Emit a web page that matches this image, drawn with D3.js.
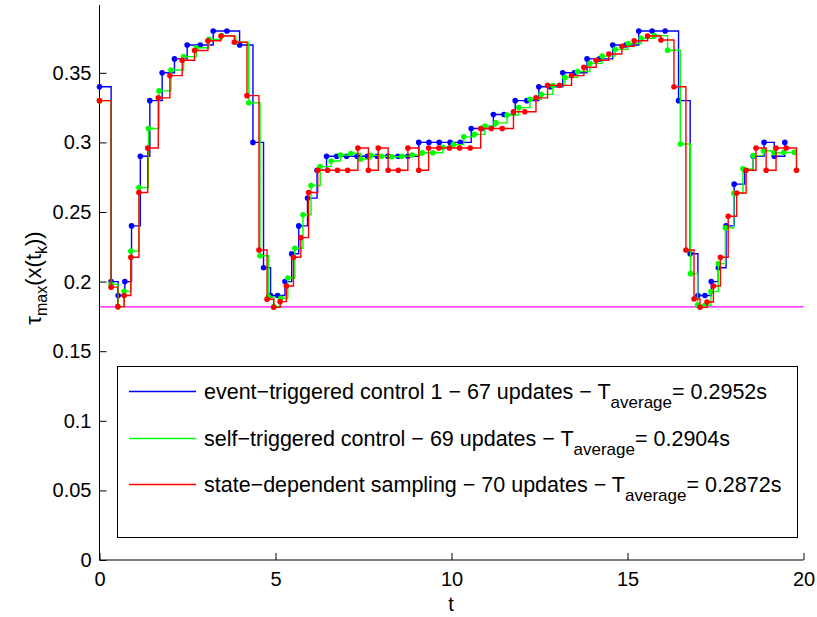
<!DOCTYPE html>
<html><head><meta charset="utf-8">
<script src="https://cdn.jsdelivr.net/npm/d3@7"></script>
<style>
body{margin:0;background:#fff;}
svg{font-family:"Liberation Sans",Arial,Helvetica,sans-serif;}
</style></head>
<body>
<svg id="c" width="817" height="617"></svg>
<script>
// Event-triggered control 1 (blue): update times and tau_max values
const blueT = [0,0.33,0.53,0.72,0.91,1.16,1.43,1.78,2.13,2.49,2.86,3.23,3.62,3.98,4.36,4.66,4.86,5.06,5.27,5.46,5.66,5.91,6.18,6.45,
  6.74,7.02,7.32,7.61,7.89,8.19,8.48,8.76,9.07,9.36,9.65,9.96,10.25,10.56,10.86,11.19,11.49,11.81,12.14,12.48,12.81,13.16,
  13.49,13.85,14.21,14.58,14.95,15.32,15.70,16.07,16.45,16.78,17.00,17.20,17.38,17.58,17.80,18.03,18.33,18.57,18.88,19.17,19.47];
const blueV = [0.34,0.20,0.19,0.20,0.24,0.29,0.33,0.35,0.36,0.37,0.37,0.38,0.38,0.37,0.30,0.21,0.19,0.19,0.20,0.22,0.24,0.26,0.28,0.29,
  0.29,0.29,0.29,0.29,0.29,0.29,0.29,0.29,0.30,0.30,0.30,0.30,0.30,0.31,0.31,0.32,0.32,0.33,0.33,0.34,0.34,0.35,
  0.35,0.36,0.36,0.37,0.37,0.38,0.38,0.38,0.33,0.22,0.19,0.19,0.20,0.21,0.24,0.27,0.28,0.29,0.30,0.29,0.30];
// Self-triggered control (green)
const greenT = [0,0.33,0.53,0.70,0.89,1.12,1.39,1.69,2.03,2.39,2.75,3.11,3.47,3.87,4.24,4.56,4.80,4.95,5.15,5.35,5.55,5.78,6.01,6.27,6.58,
  6.85,7.14,7.42,7.71,8.01,8.30,8.59,8.88,9.17,9.47,9.75,10.05,10.35,10.65,10.95,11.26,11.58,11.91,12.23,12.55,12.88,13.22,
  13.58,13.93,14.28,14.65,15.02,15.39,15.76,16.14,16.50,16.79,16.99,17.20,17.37,17.58,17.78,18.02,18.28,18.57,18.86,19.16,19.44,19.74];
const greenV = [0.33,0.198,0.182,0.193,0.222,0.2675,0.310,0.337,0.352,0.3616,0.368,0.374,0.3767,0.372,0.3285,0.2186,0.189,0.182,0.188,0.2026,0.224,0.248,0.269,0.2826,0.2866,
  0.291,0.292,0.288,0.2907,0.290,0.2897,0.290,0.291,0.2926,0.2926,0.2965,0.2984,0.304,0.3058,0.3118,0.314,0.3197,0.325,0.331,0.3345,0.3408,0.3467,
  0.3509,0.3568,0.362,0.3668,0.3711,0.3747,0.3767,0.3662,0.2989,0.2057,0.1832,0.183,0.1928,0.2129,0.2387,0.2634,0.281,0.2905,0.294,0.2926,0.2928,0.2928];
// State-dependent sampling (red)
const redT = [0,0.33,0.52,0.70,0.89,1.12,1.37,1.67,2.00,2.35,2.70,3.08,3.45,3.83,4.19,4.53,4.76,4.95,5.13,5.31,5.51,5.72,5.94,6.20,6.48,
  6.76,7.05,7.34,7.64,7.92,8.20,8.49,8.76,9.07,9.35,9.64,9.94,10.23,10.53,10.83,11.13,11.44,11.76,12.08,12.40,12.73,13.07,
  13.41,13.76,14.11,14.47,14.84,15.19,15.57,15.95,16.32,16.66,16.89,17.06,17.26,17.44,17.64,17.86,18.10,18.37,18.65,18.94,19.22,19.51,19.80];
const redV = [0.33,0.196,0.182,0.190,0.2175,0.264,0.296,0.332,0.348,0.359,0.366,0.373,0.3764,0.372,0.3336,0.2227,0.1873,0.1815,0.1856,0.1968,0.2175,0.2316,0.264,0.280,0.280,
  0.280,0.280,0.296,0.280,0.296,0.280,0.280,0.296,0.280,0.296,0.296,0.296,0.296,0.296,0.310,0.310,0.310,0.322,0.322,0.332,0.341,0.341,
  0.348,0.354,0.359,0.3635,0.369,0.373,0.3764,0.3736,0.340,0.2227,0.1875,0.1815,0.1853,0.1968,0.2175,0.247,0.2636,0.280,0.296,0.280,0.296,0.296,0.280];
const lowerBound = 0.1818;
const xTicks = [0,5,10,15,20];
const yTicks = [0,0.05,0.1,0.15,0.2,0.25,0.3,0.35];
const legendLabels = [
  ["event\u2212triggered control 1 \u2212 67 updates \u2212 T","average","= 0.2952s"],
  ["self\u2212triggered control \u2212 69 updates \u2212 T","average","= 0.2904s"],
  ["state\u2212dependent sampling \u2212 70 updates \u2212 T","average","= 0.2872s"]
];
const colors = ["#0000ff","#00ff00","#ff0000"];

const svg = d3.select("#c");
const x = d3.scaleLinear().domain([0,20]).range([99.5,803.5]);
const y = d3.scaleLinear().domain([0,0.4]).range([560,3.2]);

// axes
const xAxis = d3.axisBottom(x).tickValues(xTicks).tickSize(-7).tickPadding(12).tickFormat(d3.format("d"));
const gx = svg.append("g").attr("transform","translate(0,560)").call(xAxis);
gx.select(".domain").attr("d",`M${x(0)},0H${x(20)}`).attr("stroke","#000");
gx.selectAll("text").attr("font-size",20).attr("fill","#000").attr("dy","0.72em");
const yAxis = d3.axisLeft(y).tickValues(yTicks).tickSize(-7).tickPadding(8).tickFormat(d=>d===0?"0":d3.format("")(+d.toFixed(2)));
const gy = svg.append("g").attr("transform",`translate(${x(0)},0)`).call(yAxis);
gy.select(".domain").attr("d",`M0,${y(0)}V5`).attr("stroke","#000");
gy.selectAll("text").attr("font-size",20).attr("fill","#000");
svg.selectAll(".tick line").attr("stroke","#000");

// lower bound
svg.append("line").attr("x1",x(0)).attr("x2",x(20)).attr("y1",y(lowerBound)).attr("y2",y(lowerBound))
  .attr("stroke","#ff00ff").attr("stroke-width",1.2);

const series = [[blueT,blueV],[greenT,greenV],[redT,redV]];
const line = d3.line().x(d=>x(d[0])).y(d=>y(d[1])).curve(d3.curveStepAfter);
series.forEach((s,i)=>{
  const pts = s[0].map((t,j)=>[t,s[1][j]]);
  svg.append("path").datum(pts).attr("d",line).attr("fill","none")
    .attr("stroke",colors[i]).attr("stroke-width",1.4);
  svg.append("g").selectAll("circle").data(pts).join("circle")
    .attr("cx",d=>x(d[0])).attr("cy",d=>y(d[1])).attr("r",2.8).attr("fill",colors[i]);
});

// labels
svg.append("text").attr("x",451).attr("y",611).attr("text-anchor","middle").attr("font-size",20).text("t");
const yl = svg.append("text").attr("transform","translate(41,278) rotate(-90)").attr("text-anchor","middle").attr("font-size",22);
yl.append("tspan").text("\u03c4");
yl.append("tspan").attr("font-size",16).attr("dy",6).text("max");
yl.append("tspan").attr("dy",-6).text("(x(t");
yl.append("tspan").attr("font-size",16).attr("dy",6).text("k");
yl.append("tspan").attr("dy",-6).text("))");

// legend
const lg = svg.append("g");
lg.append("rect").attr("x",117.5).attr("y",366.5).attr("width",680).attr("height",171)
  .attr("fill","#fff").attr("stroke","#000").attr("stroke-width",1);
legendLabels.forEach((l,i)=>{
  const yy = Math.round(391 + i*46.5) + 0.5;
  lg.append("line").attr("x1",129).attr("x2",196).attr("y1",yy).attr("y2",yy).attr("stroke",colors[i]).attr("stroke-width",1.6);
  const t = lg.append("text").attr("x",204).attr("y",yy+7).attr("font-size",21.5);
  t.append("tspan").text(l[0]);
  t.append("tspan").attr("font-size",17).attr("dy",9).text(l[1]);
  t.append("tspan").attr("dy",-9).text(l[2]);
});
</script>
</body></html>
